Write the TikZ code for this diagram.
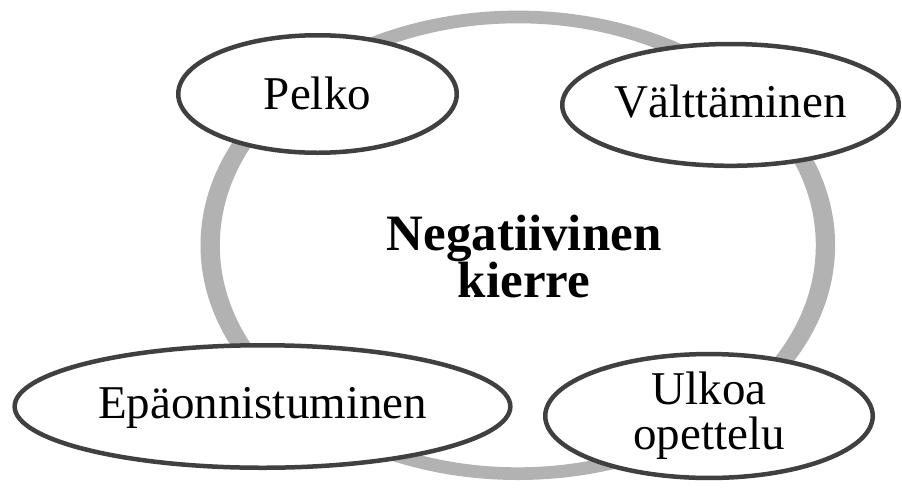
\documentclass[tikz,border=0pt]{standalone}
\usepackage{fontspec}
\setmainfont{Liberation Serif}
\usetikzlibrary{shapes.geometric}

\definecolor{ringgray}{RGB}{178,178,178}
\definecolor{edgegray}{RGB}{64,64,64}

\tikzset{
  phase/.style={ellipse, draw=edgegray, line width=4.5pt, fill=white,
    inner sep=0pt, align=center, font=\fontsize{47}{45}\selectfont},
  hub/.style={inner sep=0pt, align=center,
    font=\fontsize{51}{45}\selectfont\bfseries}
}

\begin{document}
\begin{tikzpicture}[x=1pt, y=-1pt]
  \useasboundingbox (0,0) rectangle (902,488);
  \fill[white] (0,0) rectangle (902,488);

  % the cycle ring, thicker at the sides than at top and bottom
  \coordinate (ringc) at (517.8,245.3);
  \fill[ringgray, even odd rule]
    (ringc) ellipse [x radius=317.3pt, y radius=234.7pt]
    (ringc) ellipse [x radius=298pt, y radius=222pt];

  % centre label
  \node[hub] (center) at (524,256.5) {Negatiivinen\\kierre};

  % the four phases of the cycle
  \node[phase, minimum width=278.5pt, minimum height=117.5pt,
        text height=31pt, text depth=1pt] (pelko) at (317.5,94) {Pelko};
  \node[phase, minimum width=336.5pt, minimum height=121.8pt,
        text height=27pt, text depth=1pt] (valt) at (730.5,104.9) {Välttäminen};
  \node[phase, minimum width=495.7pt, minimum height=122.5pt,
        text height=25.6pt, text depth=1pt] (epa) at (262.5,406.5) {Epäonnistuminen};
  \node[phase, minimum width=327.5pt, minimum height=121.5pt] (ulkoa)
        at (709,416) {Ulkoa\\opettelu};
\end{tikzpicture}
\end{document}
